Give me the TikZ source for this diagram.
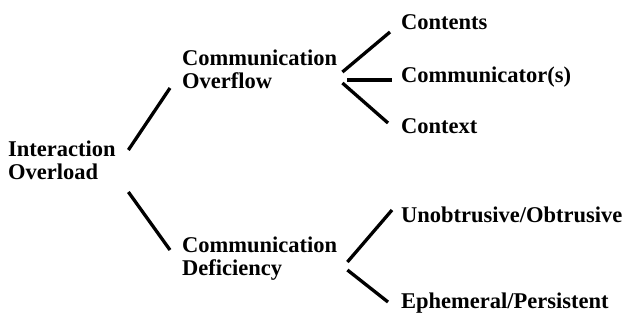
\documentclass[tikz,border=0pt]{standalone}
\usepackage{fontspec}
\setmainfont{Liberation Serif}
\begin{document}
\begin{tikzpicture}[x=1pt, y=-1pt,
    term/.style={anchor=base west, inner sep=0pt, align=left,
                 font=\bfseries\fontsize{22.5}{23}\selectfont},
    branch/.style={line width=3.3pt}]

            \useasboundingbox (0,0) rectangle (628,322);

            % two-line terms sit on the baseline of their last line
            \node[term] (io) at (8,179) {Interaction\\Overload};
            \node[term] (ovf) at (182,88) {Communication\\Overflow};
            \node[term] (def) at (182,275) {Communication\\Deficiency};
            \node[term] (cts) at (401,29) {Contents};
            \node[term] (cmr) at (401,82) {Communicator(s)};
            \node[term] (ctx) at (401,133) {Context};
            \node[term] (unob) at (401,222) {Unobtrusive/Obtrusive};
            \node[term] (eph) at (401,308) {Ephemeral/Persistent};

            \draw[branch] ([shift={(12.5,-29)}]io.base east) -- ([shift={(-12,0)}]ovf.base west);
            \draw[branch] ([shift={(12.5,13)}]io.base east) -- ([shift={(-12,-25)}]def.base west);
            \draw[branch] ([shift={(5,-16)}]ovf.base east) -- ([shift={(-11,3)}]cts.base west);
            \draw[branch] ([shift={(10,-8)}]ovf.base east) -- ([shift={(-9,-2)}]cmr.base west);
            \draw[branch] ([shift={(5,-5)}]ovf.base east) -- ([shift={(-13,-10)}]ctx.base west);
            \draw[branch] ([shift={(10,-13)}]def.base east) -- ([shift={(-9,-12)}]unob.base west);
            \draw[branch] ([shift={(10,-5)}]def.base east) -- ([shift={(-13,-6)}]eph.base west);

\end{tikzpicture}
\end{document}
